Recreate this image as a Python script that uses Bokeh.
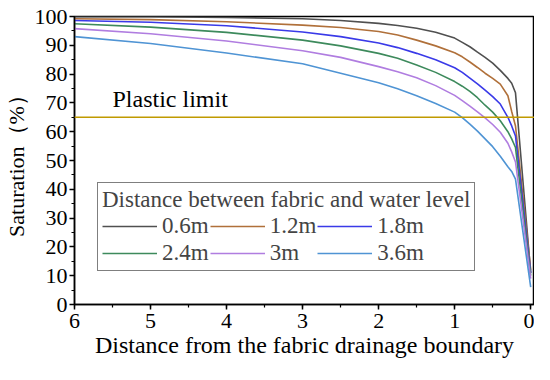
from bokeh.plotting import figure
from bokeh.models import Range1d, Span, Legend, LegendItem, FixedTicker, Label
from bokeh.embed import file_html
from bokeh.resources import INLINE

x = [6, 5, 4, 3, 2.5, 2, 1.75, 1.5, 1.25, 1.0, 0.9, 0.8, 0.7, 0.6, 0.5, 0.4, 0.3, 0.25, 0.2, 0]
s06 = [99.9, 99.9, 99.7, 99.2, 98.6, 97.6, 96.9, 95.9, 94.5, 92.5, 91.0, 89.5, 87.6, 85.8, 83.8, 81.3, 78.5, 76.8, 73.5, 11]
s12 = [99.2, 98.9, 98.2, 97.0, 96.2, 94.8, 93.6, 91.8, 89.8, 87.4, 86.0, 84.2, 82.3, 80.3, 78.5, 76.5, 72.5, 67.0, 62.0, 12]
s18 = [98.6, 98.0, 96.8, 94.6, 93.0, 90.8, 89.2, 87.2, 85.0, 82.2, 80.6, 78.6, 76.6, 74.4, 72.2, 69.6, 65.0, 62.0, 58.5, 11]
s24 = [97.5, 96.3, 94.5, 91.8, 89.8, 87.2, 85.5, 83.2, 80.6, 77.4, 75.8, 74.0, 71.8, 69.2, 66.8, 63.8, 60.0, 57.5, 54.5, 10]
s30 = [95.8, 94.0, 91.5, 88.1, 85.8, 82.6, 80.8, 78.7, 76.0, 72.6, 70.8, 68.9, 66.9, 64.8, 62.5, 59.8, 56.0, 53.0, 49.5, 9]
s36 = [93.0, 90.6, 87.3, 83.6, 80.3, 77.0, 74.9, 72.5, 69.8, 66.8, 64.9, 62.6, 60.2, 57.5, 54.8, 51.5, 47.8, 46.2, 43.5, 6]
series = [s06, s12, s18, s24, s30, s36]
labels = ["0.6m", "1.2m", "1.8m", "2.4m", "3m", "3.6m"]
colors = ["#505050", "#b0703a", "#3a3ae8", "#3d8a5c", "#b07de0", "#4f94d4"]
plastic_limit = 65
x_ticks = [0, 1, 2, 3, 4, 5, 6]
y_ticks = [0, 10, 20, 30, 40, 50, 60, 70, 80, 90, 100]

FONT = "Liberation Serif"

p = figure(width=534, height=364, output_backend="svg", toolbar_location=None,
           x_range=Range1d(6, -0.05), y_range=Range1d(0, 100),
           min_border_left=72, min_border_right=0, min_border_top=16, min_border_bottom=60)
p.grid.visible = False
p.outline_line_color = "black"
p.outline_line_width = 1.5

p.xaxis.ticker = FixedTicker(ticks=x_ticks, minor_ticks=[i * 0.5 for i in range(13)])
p.yaxis.ticker = FixedTicker(ticks=y_ticks, minor_ticks=[i * 5 for i in range(21)])
for ax in (p.xaxis, p.yaxis):
    ax.axis_line_width = 1.5
    ax.major_tick_in = 0
    ax.major_tick_out = 5
    ax.minor_tick_in = 0
    ax.minor_tick_out = 3
    ax.major_tick_line_width = 1.5
    ax.minor_tick_line_width = 1.2
    ax.major_label_text_font = FONT
    ax.major_label_text_font_size = "22px"
    ax.major_label_text_color = "black"
    ax.axis_label_text_font = FONT
    ax.axis_label_text_font_style = "normal"
    ax.axis_label_text_color = "black"
p.xaxis.axis_label = "Distance from the fabric drainage boundary"
p.yaxis.axis_label = "Saturation（%）"
p.xaxis.axis_label_text_font_size = "24px"
p.yaxis.axis_label_text_font_size = "22px"
p.xaxis.major_label_standoff = 4
p.yaxis.major_label_standoff = 2
p.xaxis.axis_label_standoff = 1
p.yaxis.axis_label_standoff = 3

renderers = []
for ys, c in zip(series, colors):
    r = p.line(x, ys, line_color=c, line_width=1.6)
    renderers.append(r)

p.add_layout(Span(location=plastic_limit, dimension="width", line_color="#c09a00", line_width=1.6))
p.add_layout(Label(x=5.5, y=71.5, text="Plastic limit", text_font=FONT, text_font_size="24px",
                   text_baseline="middle", text_color="black"))

order = [0, 3, 1, 4, 2, 5]
legend = Legend(items=[LegendItem(label=labels[i], renderers=[renderers[i]]) for i in order],
                location=(23, 33), ncols=3, title="Distance between fabric and water level")
legend.title_text_font = FONT
legend.title_text_font_size = "23px"
legend.title_text_font_style = "normal"
legend.title_standoff = 0
legend.label_text_font = FONT
legend.label_text_font_size = "23px"
legend.label_standoff = 5
legend.glyph_width = 55
legend.glyph_height = 18
legend.label_height = 18
legend.spacing = 1
legend.padding = 4
legend.margin = 0
legend.border_line_color = "black"
legend.border_line_width = 1.5
legend.background_fill_alpha = 1
p.add_layout(legend, "center")

open("out.html", "w").write(file_html(p, INLINE))
